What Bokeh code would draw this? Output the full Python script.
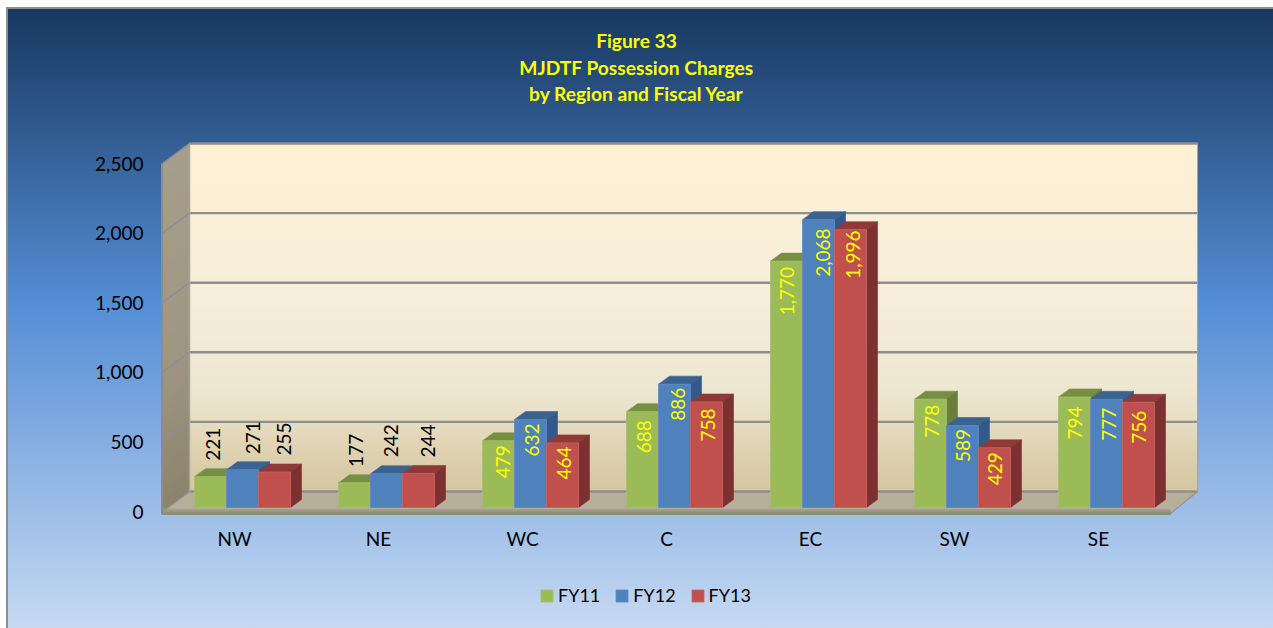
import math
import numpy as np
from bokeh.embed import file_html
from bokeh.resources import INLINE
from bokeh.core.properties import value
from bokeh.plotting import figure
from bokeh.models import (Range1d, FixedTicker, Label, Legend, LegendItem)

# ---- data ----
categories = ["NW", "NE", "WC", "C", "EC", "SW", "SE"]
fy11 = [221, 177, 479, 688, 1770, 778, 794]
fy12 = [271, 242, 632, 886, 2068, 589, 777]
fy13 = [255, 244, 464, 758, 1996, 429, 756]
series_names = ["FY11", "FY12", "FY13"]
y_ticks = [0, 500, 1000, 1500, 2000, 2500]
title_lines = ["Figure 33", "MJDTF Possession Charges", "by Region and Fiscal Year"]

# ---- style ----
FONT = "Lato"
TEXT_SIZE = "19px"
front_colors = ["#9BBB59", "#4F81BD", "#C0504D"]
top_colors = ["#778F43", "#3B6391", "#8F3A38"]
side_colors = ["#687E3A", "#33588A", "#7C302F"]
edge_colors = ["#A3C163", "#5A8AC2", "#C9625F"]
# label placement relative to each bar (screen px): upward lift from bar top, rightward shift
lbl_lift = [[32.5, 32.5, -21, -25, -30, -22, -26],
            [32, 33, -20.5, -20, -33, -20, -25],
            [33, 32.5, -20, -23, -25, -21, -25]]
lbl_shift = [[2, 1, 4, 1, 0, 1, 0],
             [10, 4, 1, 3, 4, 0, 2],
             [9, 9, 1, 1, 2, 0, 0]]

# ---- page geometry (page px) ----
OX, OY = 6, 7               # figure's top-left corner on the page
W, H = 1267, 621
FL, FR, FT, FB = OX, OX + W, OY, OY + H    # the frame fills the figure
X0, CAT_W = 162, 144        # front plane: x px of category 0, px per category
Y0, PX_UNIT = 511, 348 / 2500   # front plane: y px of value 0, px per value unit
WALL_DX, WALL_DY = 27 / CAT_W, 20 / PX_UNIT
BAR_DX, BAR_DY = 11 / CAT_W, 8 / PX_UNIT
BAR_BASE = 4 / PX_UNIT
BAR_W = 32 / CAT_W
BAR_LEFT = 32 / CAT_W


def xd(px):
    return (px - X0) / CAT_W


def yd(py):
    return (Y0 - py) / PX_UNIT


p = figure(width=W, height=H, output_backend="svg", toolbar_location=None,
           x_range=Range1d(xd(FL), xd(FR)), y_range=Range1d(yd(FB), yd(FT)),
           min_border=0, min_border_left=0, min_border_right=0,
           min_border_top=0, min_border_bottom=0,
           border_fill_color=None, background_fill_color=None, outline_line_color=None)
p.styles = {
    "position": "absolute", "left": f"{OX}px", "top": f"{OY}px",
    "background": "linear-gradient(180deg, #17375E 0%, #558ED5 48%, #C6D9F1 100%)",
    "box-shadow": "inset 2px 2px 0 #8C8C8C",
}
p.grid.visible = False

# axes (kept at fixed places inside the full-size frame)
p.xaxis.ticker = FixedTicker(ticks=[i + 0.5 for i in range(len(categories))])
p.xaxis.major_label_overrides = {i + 0.5: c for i, c in enumerate(categories)}
p.xaxis.fixed_location = yd(518)
p.yaxis.ticker = FixedTicker(ticks=y_ticks)
p.yaxis.major_label_overrides = {t: f"{t:,}" for t in y_ticks}
p.yaxis.fixed_location = xd(158)
for ax, standoff in ((p.xaxis, 8), (p.yaxis, 15)):
    ax.axis_line_color = None
    ax.major_tick_line_color = None
    ax.minor_tick_line_color = None
    ax.major_tick_in = 0
    ax.major_tick_out = 0
    ax.major_label_standoff = standoff
    ax.major_label_text_font = FONT
    ax.major_label_text_font_size = TEXT_SIZE
    ax.major_label_text_color = "#000000"


def lerp_stops(t, stops):
    ts = [s[0] for s in stops]
    return "#%02X%02X%02X" % tuple(
        int(round(np.interp(t, ts, [int(s[1][i:i + 2], 16) for s in stops]))) for i in (1, 3, 5))


# back wall gradient: painted from the full height downward so that no seams show
wall_stops = [(0, "#FFF0D4"), (0.45, "#F6EEDA"), (0.72, "#EDE6D0"), (0.9, "#DDD0AE"), (1, "#D5C6A1")]
N = 87
wall_edges = np.linspace(yd(143), yd(491), N, endpoint=False)
wall_cols = [lerp_stops((i + 0.5) / N, wall_stops) for i in range(N)]
p.quad(left=xd(189), right=xd(1197), bottom=yd(491), top=wall_edges,
       fill_color=wall_cols, line_color=None)

# left side wall gradient
side_stops = [(0, "#A79D8B"), (0.6, "#9E9682"), (1, "#8B836D")]
side_cols = [lerp_stops((i + 0.5) / N, side_stops) for i in range(N)]
p.patches([[xd(162), xd(189), xd(189), xd(162)] for _ in range(N)],
          [[e - WALL_DY, e, yd(491), yd(511)] for e in wall_edges],
          fill_color=side_cols, line_color=None)

# floor
p.patch([xd(162), xd(1170), xd(1197), xd(189)], [yd(511), yd(511), yd(491), yd(491)],
        fill_color="#B8AF9B", line_color=None)
strip_stops = [(0, "#ABA391"), (1, "#8B8573")]
strip_n = 6
strip_e = np.linspace(yd(508), yd(514), strip_n, endpoint=False)
p.patches([[xd(162), xd(1170), xd(1170), xd(162)] for _ in range(strip_n)],
          [[e, e, yd(514), yd(514)] for e in strip_e],
          fill_color=[lerp_stops(i / (strip_n - 1), strip_stops) for i in range(strip_n)],
          line_color=None)

# gridlines on the walls, including the floor line
GRID = "#8E8E8C"
tick_back = [t + WALL_DY for t in y_ticks]
p.segment(x0=[xd(189)] * 6, x1=[xd(1197)] * 6, y0=tick_back, y1=tick_back,
          line_color=GRID, line_width=2.4)
p.segment(x0=[xd(162)] * 6, x1=[xd(189)] * 6, y0=y_ticks, y1=tick_back,
          line_color="#8A8E94", line_width=1.5)
# wall edges
p.line([xd(161.5), xd(161.5)], [yd(514), yd(163)], line_color="#8C8C88", line_width=2)
p.line([xd(189), xd(189)], [yd(491), yd(143)], line_color="#A8A294", line_width=1.5)
p.line([xd(1197), xd(1197)], [yd(491), yd(143)], line_color="#A6A69E", line_width=1)
p.line([xd(1170), xd(1197)], [yd(513), yd(491)], line_color="#9A9688", line_width=1.5)

# bars
series_vals = [fy11, fy12, fy13]
legend_items = []
label_x, label_y, label_t, label_c = [], [], [], []
for s, vals in enumerate(series_vals):
    lefts = [i + BAR_LEFT + s * BAR_W for i in range(len(vals))]
    rights = [l + BAR_W for l in lefts]
    tops = [v + BAR_BASE for v in vals]
    p.patches([[l, r, r + BAR_DX, l + BAR_DX] for l, r in zip(lefts, rights)],
              [[t, t, t + BAR_DY, t + BAR_DY] for t in tops],
              fill_color=top_colors[s], line_color=top_colors[s], line_width=0.6)
    p.patches([[r, r + BAR_DX, r + BAR_DX, r] for r in rights],
              [[BAR_BASE, BAR_BASE + BAR_DY, t + BAR_DY, t] for t in tops],
              fill_color=side_colors[s], line_color=side_colors[s], line_width=0.6)
    front = p.quad(left=lefts, right=rights, bottom=BAR_BASE, top=tops,
                   fill_color=front_colors[s], line_color=edge_colors[s], line_width=0.8)
    legend_items.append(LegendItem(label=series_names[s], renderers=[front]))
    for i, v in enumerate(vals):
        label_x.append(lefts[i] + BAR_W / 2 + lbl_shift[s][i] / CAT_W)
        label_y.append(tops[i] + lbl_lift[s][i] / PX_UNIT)
        label_t.append(f"{v:,}")
        label_c.append("#000000" if categories[i] in ("NW", "NE") else "#FFFF00")

p.text(x=label_x, y=label_y, text=label_t, angle=math.pi / 2, text_align="center",
       text_baseline="middle", text_color=label_c, text_font=value(FONT), text_font_size=TEXT_SIZE)

# title
for line, cy in zip(title_lines, (40, 67, 93)):
    p.add_layout(Label(x=636 - FL, y=FB - cy, x_units="screen", y_units="screen",
                       text=line, text_align="center", text_baseline="middle",
                       text_color="#FFFF00", text_font=FONT, text_font_style="bold",
                       text_font_size="19.2px"))

legend = Legend(items=legend_items, orientation="horizontal", location=(539 - FL, FB - 606),
                glyph_width=15, glyph_height=15, spacing=14, label_standoff=4, margin=0, padding=0,
                border_line_color=None, background_fill_color=None,
                label_text_font=FONT, label_text_font_size="18px", label_text_color="#000000")
p.add_layout(legend, "center")

open("out.html", "w").write(file_html(p, INLINE))
